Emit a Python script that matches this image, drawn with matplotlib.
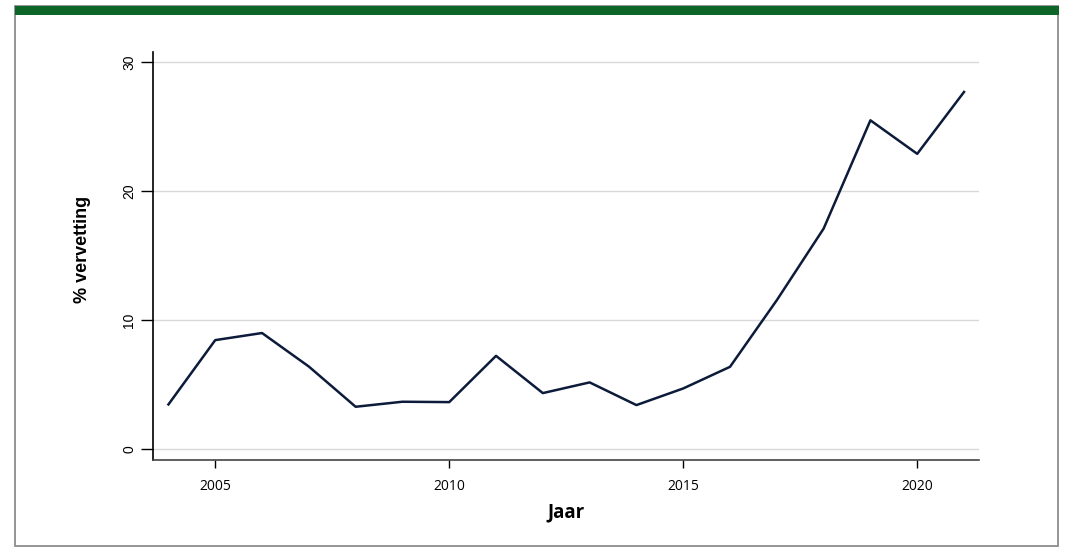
import matplotlib.pyplot as plt
from matplotlib.patches import Rectangle

years = list(range(2004, 2022))
vervetting = [3.46, 8.45, 9.0, 6.4, 3.28, 3.67, 3.64, 7.23, 4.34, 5.17,
              3.41, 4.7, 6.38, 11.55, 17.1, 25.5, 22.9, 27.7]
y_ticks = [0, 10, 20, 30]
x_ticks = [2005, 2010, 2015, 2020]

W, H = 1070, 552
fig = plt.figure(figsize=(W / 100, H / 100), dpi=100)

# frame + green band on top
fig.patches.append(Rectangle((15 / W, 1 - 546 / H), 1043 / W, 540 / H,
                             transform=fig.transFigure, fill=False,
                             edgecolor='#8c8c8c', linewidth=1.3))
fig.patches.append(Rectangle((15 / W, 1 - 15 / H), 1044 / W, 9 / H,
                             transform=fig.transFigure, facecolor='#0d6627',
                             edgecolor='none'))

# axes box in pixels: x 153..979, y 52..460
ax = fig.add_axes([153 / W, 1 - 460 / H, (979 - 153) / W, (460 - 52) / H])
ax.plot(years, vervetting, color='#0c1b3a', linewidth=1.8, zorder=3)

ax.set_xlim(2003.67, 2021.32)
ax.set_ylim(-0.85, 30.8)
ax.set_yticks(y_ticks)
ax.set_xticks(x_ticks)
for v in y_ticks:
    ax.axhline(v, color='#d9d9d9', linewidth=1, zorder=1)

for s in ['top', 'right']:
    ax.spines[s].set_visible(False)
ax.spines['left'].set_color('black')
ax.spines['bottom'].set_color('#444444')
ax.spines['left'].set_linewidth(1.2)
ax.spines['bottom'].set_linewidth(1.2)

ax.tick_params(axis='y', length=9, width=1, colors='black', pad=3,
               labelsize=10, labelrotation=90)
ax.tick_params(axis='x', length=6, width=1, colors='black', pad=8,
               labelsize=10)
for lab in ax.get_yticklabels():
    lab.set_fontfamily(['Liberation Sans'])
    lab.set_verticalalignment('center')
for lab in ax.get_xticklabels():
    lab.set_fontfamily(['Open Sans'])

ax.set_ylabel('% vervetting', fontsize=13, fontweight='bold',
              family=['Liberation Sans'])
ax.yaxis.set_label_coords(-0.075, 0.515)
ax.set_xlabel('Jaar', fontsize=13.5, fontweight='bold',
              family=['Open Sans'], labelpad=6)

fig.savefig('out.png', dpi=100)
